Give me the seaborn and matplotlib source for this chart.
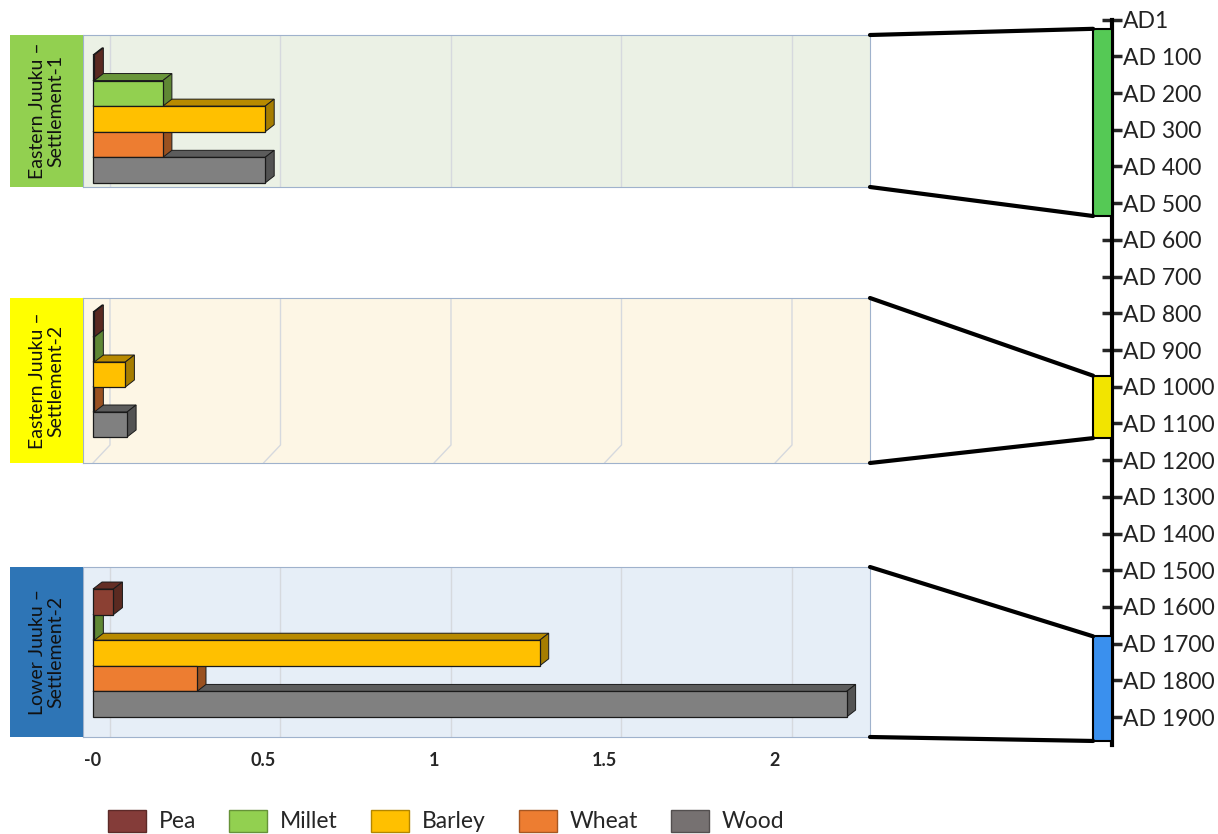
import matplotlib
matplotlib.use('Agg')
import matplotlib.pyplot as plt
import seaborn as sns
import pandas as pd
from matplotlib.colors import to_rgb
from matplotlib.patches import Polygon, Rectangle, ConnectionPatch, Patch

sns.set_style('white')
plt.rcParams['font.family'] = ['Lato', 'DejaVu Sans']

# data
crops = ['Pea', 'Millet', 'Barley', 'Wheat', 'Wood']
crop_colors = ['#8B4033', '#92D050', '#FFC000', '#ED7D31', '#808080']
legend_colors = ['#843C39', '#92D050', '#FFC000', '#ED7D31', '#767171']

site_names = ['Eastern Juuku –\nSettlement-1',
              'Eastern Juuku –\nSettlement-2',
              'Lower Juuku –\nSettlement-2']
site_colors = ['#92D050', '#FFFF00', '#2E75B6']
panel_colors = ['#EBF1E5', '#FDF6E5', '#E6EEF7']

east1 = [0.004, 0.205, 0.505, 0.205, 0.505]
east2 = [0.004, 0.004, 0.095, 0.004, 0.10]
lower2 = [0.06, 0.004, 1.31, 0.305, 2.21]

xticks = [0, 0.5, 1, 1.5, 2]
xtick_labels = ['-0', '0.5', '1', '1.5', '2']

period_start = [25, 970, 1680]
period_end = [535, 1140, 1965]
period_colors = ['#55C955', '#F2E400', '#3A90EE']

years = [1, 100, 200, 300, 400, 500, 600, 700, 800, 900, 1000,
         1100, 1200, 1300, 1400, 1500, 1600, 1700, 1800, 1900]
year_labels = ['AD1'] + ['AD %d' % y for y in years[1:]]

df = pd.DataFrame({
    'site': [s for s in site_names for _ in crops],
    'crop': crops * 3,
    'value': east1 + east2 + lower2,
})

# layout (pixels)
W, H = 1218, 834
panel_px = [(35, 187), (298, 463), (567, 737)]
panel_ylims = [(4.66, -1.28), (5.54, -1.06), (5.28, -1.36)]
floor_px = [0, 18, 0]
DX, DY = 9, 7
GRID_DX = 17


def fig_rect(x0, y0, x1, y1):
    return [x0 / W, 1 - y1 / H, (x1 - x0) / W, (y1 - y0) / H]


def shade(c, f):
    r, g, b = to_rgb(c)[:3]
    return (r * f, g * f, b * f)


def shift(ax, pt, dx, dy):
    d = ax.transData.transform(pt)
    return ax.transData.inverted().transform((d[0] + dx, d[1] + dy))


fig = plt.figure(figsize=(W / 100, H / 100), dpi=100)

tl = fig.add_axes(fig_rect(1080, 20, 1112, 745))
tl.set_xlim(0, 1)
tl.set_ylim(1976, 1)
tl.patch.set_alpha(0)
for s in ['top', 'left', 'bottom']:
    tl.spines[s].set_visible(False)
tl.spines['right'].set_linewidth(3)
tl.spines['right'].set_color('black')
tl.yaxis.tick_right()
tl.set_xticks([])
tl.set_yticks(years, year_labels)
tl.tick_params(axis='y', direction='inout', length=14, width=2.5, pad=1,
               labelsize=16.5, labelcolor='#222222')
for st, en, c in zip(period_start, period_end, period_colors):
    tl.add_patch(Rectangle((0.41, st), 0.59, en - st, facecolor=c,
                           edgecolor='black', lw=1.5, zorder=3, clip_on=False))

for i, site in enumerate(site_names):
    top, bot = panel_px[i]
    ax = fig.add_axes(fig_rect(83, top, 870, bot))
    ax.set_facecolor(panel_colors[i])
    sub = df[df['site'] == site]
    sns.barplot(data=sub, x='value', y='crop', hue='crop', order=crops,
                hue_order=crops, palette=crop_colors, width=1.0, orient='h',
                saturation=1, edgecolor='#1a1a1a', linewidth=0.9,
                legend=False, ax=ax)
    ax.set_xlim(-0.0293, 2.2786)
    ax.set_ylim(panel_ylims[i])
    ax.set_xlabel('')
    ax.set_ylabel('')
    ax.set_yticks([])

    # pseudo-3D faces
    for p in list(ax.patches):
        p.set_zorder(4)
        x0, w = p.get_x(), p.get_width()
        y0, h = p.get_y(), p.get_height()
        fc = p.get_facecolor()
        xr, yt, yb = x0 + w, y0, y0 + h
        top_face = [(x0, yt), (xr, yt), shift(ax, (xr, yt), DX, DY), shift(ax, (x0, yt), DX, DY)]
        side_face = [(xr, yt), (xr, yb), shift(ax, (xr, yb), DX, DY), shift(ax, (xr, yt), DX, DY)]
        ax.add_patch(Polygon(top_face, closed=True, facecolor=shade(fc, 0.72),
                             edgecolor='#1a1a1a', lw=0.7, zorder=2))
        ax.add_patch(Polygon(side_face, closed=True, facecolor=shade(fc, 0.65),
                             edgecolor='#1a1a1a', lw=0.7, zorder=3))

    # back-wall grid lines
    ybot, ytop = ax.get_ylim()
    for v in xticks:
        pts = [shift(ax, (v, ytop), GRID_DX, 0)]
        if floor_px[i]:
            pts.append(shift(ax, (v, ybot), GRID_DX, floor_px[i]))
            pts.append((v, ybot))
        else:
            pts.append(shift(ax, (v, ybot), GRID_DX, 0))
        xs, ys = zip(*pts)
        ax.plot(xs, ys, color='#d6d9de', lw=1, zorder=1)

    for s in ax.spines.values():
        s.set_color('#9fb2cc')
        s.set_linewidth(0.8)

    if i == 2:
        ax.set_xticks(xticks, xtick_labels)
        ax.tick_params(axis='x', length=0, pad=11, labelsize=13)
        for t in ax.get_xticklabels():
            t.set_fontweight('bold')
    else:
        ax.set_xticks([])

    lab = fig.add_axes(fig_rect(10, top, 83, bot))
    lab.set_facecolor(site_colors[i])
    lab.set_xticks([])
    lab.set_yticks([])
    for s in lab.spines.values():
        s.set_visible(False)
    lab.text(0.5, 0.5, site, rotation=90, ha='center', va='center',
             fontsize=14, color='#111111', linespacing=1.1,
             transform=lab.transAxes)

    for ya, yr in [(1, period_start[i]), (0, period_end[i])]:
        con = ConnectionPatch(xyA=(1, ya), coordsA='axes fraction', axesA=ax,
                              xyB=(0.41, yr), coordsB='data', axesB=tl,
                              color='black', lw=3)
        fig.add_artist(con)

handles = [Patch(facecolor=c, edgecolor=shade(c, 0.7), lw=1) for c in legend_colors]
fig.legend(handles, crops, loc='lower left', bbox_to_anchor=(108 / W, 0.002),
           ncol=5, frameon=False, fontsize=16.5, handlelength=1.66,
           handleheight=1.1, handletextpad=0.55, columnspacing=1.45,
           borderpad=0, borderaxespad=0)

fig.savefig('out.png', dpi=100)
